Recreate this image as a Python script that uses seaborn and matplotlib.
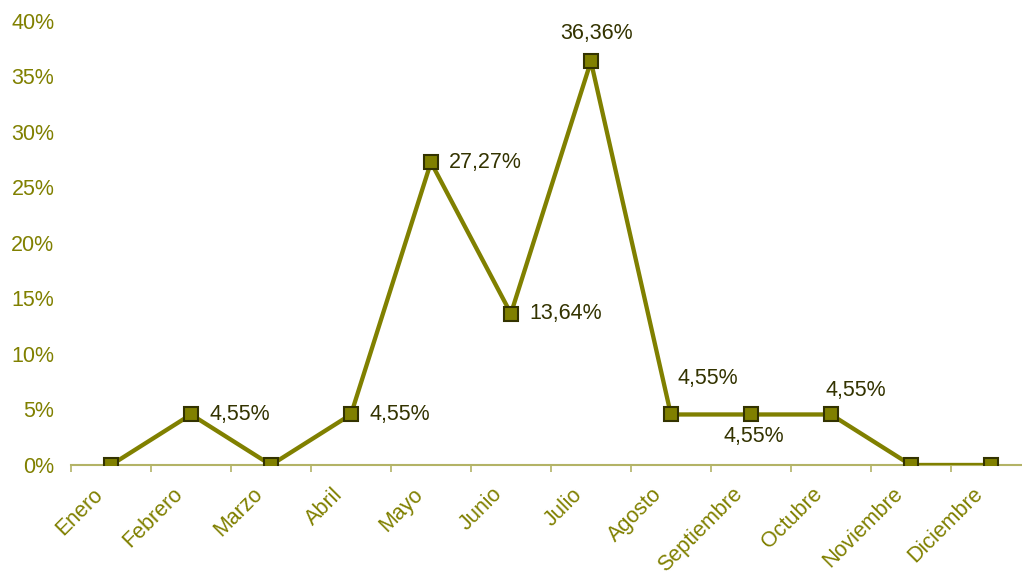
import numpy as np
import pandas as pd
import matplotlib
matplotlib.use("Agg")
import matplotlib.pyplot as plt
import matplotlib.transforms as mtransforms
import seaborn as sns
from matplotlib.ticker import FuncFormatter, FixedLocator

meses = ["Enero", "Febrero", "Marzo", "Abril", "Mayo", "Junio", "Julio",
         "Agosto", "Septiembre", "Octubre", "Noviembre", "Diciembre"]
porcentajes = [0, 4.55, 0, 4.55, 27.27, 13.64, 36.36, 4.55, 4.55, 4.55, 0, 0]
etiquetas = ["", "4,55%", "", "4,55%", "27,27%", "13,64%", "36,36%",
             "4,55%", "4,55%", "4,55%", "", ""]

OLIVA = "#808000"
OSCURO = "#333300"

sns.set_theme(style="white")
plt.rcParams['font.family'] = ['Liberation Sans', 'DejaVu Sans']

df = pd.DataFrame({"mes": meses, "pct": porcentajes})

fig = plt.figure(figsize=(10.22, 5.73), dpi=100)
ax = fig.add_axes([0.0695, 0.1885, 0.9305, 0.7749])

sns.lineplot(data=df, x="mes", y="pct", ax=ax, color=OLIVA, linewidth=3.1,
             marker="s", markersize=9.5, markerfacecolor=OLIVA,
             markeredgecolor=OSCURO, markeredgewidth=1.5, sort=False)

ax.set_xlim(-0.5, 11.39)
ax.set_ylim(0, 40)
ax.set_yticks(np.arange(0, 41, 5))
ax.yaxis.set_major_formatter(FuncFormatter(lambda v, p: f"{int(v)}%"))

for s in ["top", "right", "left"]:
    ax.spines[s].set_visible(False)
ax.spines["bottom"].set_color("#b3b366")
ax.spines["bottom"].set_linewidth(1.5)
ax.spines["bottom"].set_zorder(0)

ax.set_xlabel("")
ax.set_ylabel("")
ax.set_xticks(range(len(meses)))
ax.set_xticklabels(meses, rotation=45, ha="right", rotation_mode="anchor")
ax.xaxis.set_minor_locator(FixedLocator(np.arange(-0.5, 12, 1)))
ax.tick_params(axis="x", which="major", length=0, pad=15, labelsize=15.5,
               labelcolor=OLIVA)
ax.tick_params(axis="x", which="minor", bottom=True, length=5, width=1.2,
               color="#b3b366")
ax.tick_params(axis="y", length=0, pad=12, labelsize=15.5, labelcolor=OLIVA)

# desplazar las etiquetas del eje x hacia la izquierda
desplazamiento = mtransforms.ScaledTranslation(-0.19, 0.02, fig.dpi_scale_trans)
for t in ax.get_xticklabels():
    t.set_transform(t.get_transform() + desplazamiento)

# posiciones de las etiquetas (offset en puntos)
offsets = {1: (13, 0, "left", "center"), 3: (13, 0, "left", "center"),
           4: (13, 0, "left", "center"), 5: (13, 0, "left", "center"),
           6: (4, 20, "center", "center"), 7: (5, 26, "left", "center"),
           8: (2, -16, "center", "center"), 9: (18, 17, "center", "center")}
for i, txt in enumerate(etiquetas):
    if not txt:
        continue
    dx, dy, ha, va = offsets[i]
    ax.annotate(txt, (i, porcentajes[i]), xytext=(dx, dy),
                textcoords="offset points", ha=ha, va=va, fontsize=15.5,
                color=OSCURO)

fig.savefig("out.png", dpi=100)
